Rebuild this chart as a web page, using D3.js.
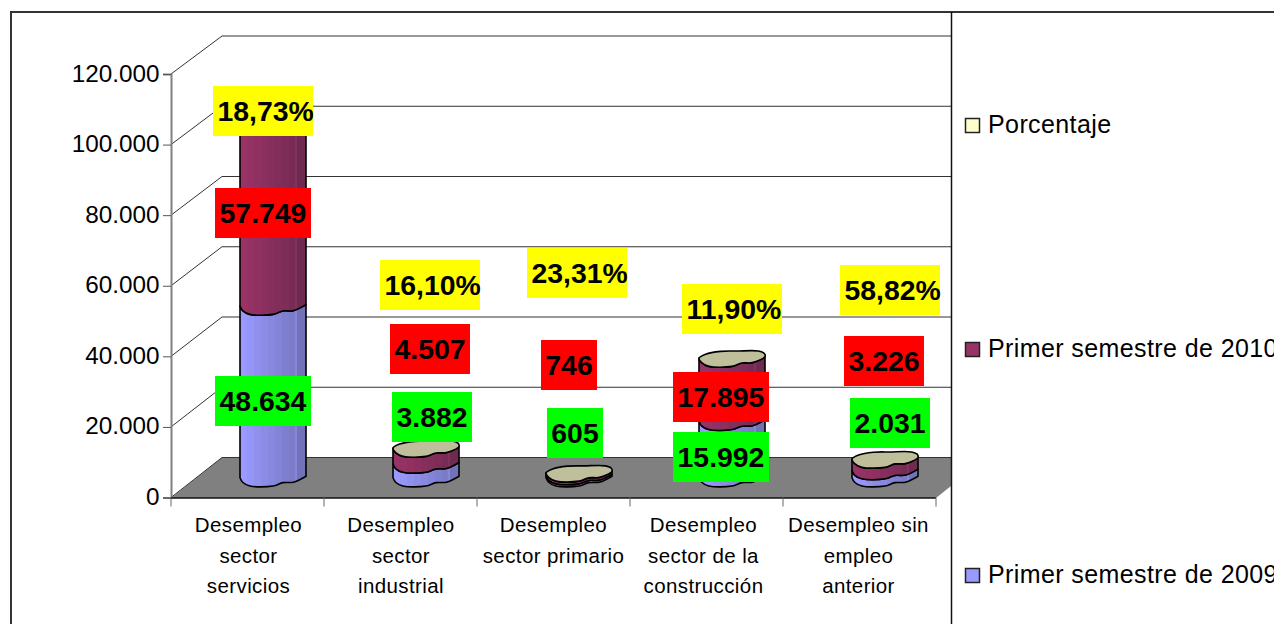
<!DOCTYPE html>
<html><head><meta charset="utf-8">
<script src="https://cdn.jsdelivr.net/npm/d3@7/dist/d3.min.js"></script>
<style>
html,body{margin:0;padding:0;background:#fff;overflow:hidden}
svg{display:block}
text{font-family:"Liberation Sans",Arial,sans-serif;fill:#000}
</style></head><body>
<svg id="c" width="1274" height="624"></svg>
<script>
// ---- data ----
const categories = [
  ["Desempleo","sector","servicios"],
  ["Desempleo","sector","industrial"],
  ["Desempleo","sector primario"],
  ["Desempleo","sector de la","construcción"],
  ["Desempleo sin","empleo","anterior"]
];
const semestre2009 = [48634, 3882, 605, 15992, 2031];
const semestre2010 = [57749, 4507, 746, 17895, 3226];
const porcentaje   = [18.73, 16.10, 23.31, 11.90, 58.82];
const yTicks = [0, 20000, 40000, 60000, 80000, 100000, 120000];
const seriesNames = ["Primer semestre de 2009", "Primer semestre de 2010", "Porcentaje"];
const yMax = 120000;

// ---- layout and style (hand-placed data labels, as in the source) ----
const boxLeft2009 = [215, 392, 547, 673, 850], boxTop2009 = [376, 392, 408, 432, 398];
const boxLeft2010 = [215, 390, 541, 673, 844], boxTop2010 = [188, 324, 340, 372, 336];
const boxLeftPct  = [213, 380, 527, 682, 840], boxTopPct  = [86, 260, 248, 284, 265];
const catOffset = [1, .5, 0, -3, -1];
const frontPts = [[1,-.3],[.62,.5],[.3,.55],[0,1],[-.7,1],[-.92,.5],[-1,-.1]];
const backPts  = [[-.8,-.63],[-.35,-1],[.15,-1.04],[.8,-1.04],[.98,-.72]];
const swatchColors = ["#9999FF","#993366","#FFFFCC"];
const capColor = "#BFBF9B";

const nf = d3.formatLocale({decimal:",",thousands:".",grouping:[3],currency:["",""]});
const fInt = nf.format(",d"), fPct = nf.format(".2f");

const svg = d3.select("#c");
const L=171,R=936,T=74,B=497.5, DX=51, wallTop=36, wallBottom=457.5, clipR=951;
const y = d3.scaleLinear().domain([0,yMax]).range([B,T]);
const yWall = d3.scaleLinear().domain([0,yMax]).range([wallBottom,wallTop]);
const x = d3.scaleBand().domain(d3.range(categories.length)).range([L,R]);

// gradients
const defs = svg.append("defs");
function grad(id,c0,c1){
  const g = defs.append("linearGradient").attr("id",id).attr("x1",0).attr("x2",1).attr("y1",0).attr("y2",0);
  const n = 10, col = d3.interpolateRgb(c0,c1);
  d3.range(n).forEach(i=>{
    const lighter = i===8;
    const c = lighter? d3.color(col(i/(n-1))).brighter(.35) : col(i/(n-1));
    const a = i<8 ? i/8*0.84 : (i===8?0.84:0.86);
    const b = i<8 ? (i+1)/8*0.84 : (i===8?0.86:1);
    g.append("stop").attr("offset",a).attr("stop-color",c);
    g.append("stop").attr("offset",b).attr("stop-color",c);
  });
}
grad("g0","#9999FF","#7272B8");
grad("g1","#993366","#6F2A50");
defs.append("clipPath").attr("id","plotClip").append("rect").attr("x",12).attr("y",12).attr("width",clipR-12).attr("height",612);

const plot = svg.append("g").attr("clip-path","url(#plotClip)");

// floor
plot.append("path").attr("d",d3.line()([[L,B+.5],[L+DX,wallBottom],[R+DX,wallBottom],[R,B+.5]])+"Z").attr("fill","#808080");

// wall gridlines
plot.selectAll("path.grid").data(yTicks).join("path").attr("class","grid")
  .attr("d",v=>d3.line()([[L,y(v)],[L+DX,yWall(v)],[clipR,yWall(v)]]))
  .attr("fill","none").attr("stroke","#333").attr("stroke-width",1);

// y axis
const yAxis = svg.append("g").attr("transform",`translate(${L},0)`)
  .call(d3.axisLeft(y).tickValues(yTicks).tickFormat(fInt).tickSize(8).tickPadding(3.5));
yAxis.select(".domain").attr("stroke","#808080").attr("stroke-width",2);
yAxis.selectAll("line").attr("stroke","#555").attr("stroke-width",1);
yAxis.selectAll("text").attr("font-size",24.3).attr("dy","0.29em").style("font-family",'"Liberation Sans"');

// x baseline and ticks
const xEdges = d3.range(categories.length+1).map(i=>L+i*x.step());
svg.append("line").attr("x1",L).attr("x2",R).attr("y1",B+.5).attr("y2",B+.5).attr("stroke","#111").attr("stroke-width",1.5);
svg.selectAll("line.xt").data(xEdges).join("line").attr("class","xt")
  .attr("x1",d=>d).attr("x2",d=>d).attr("y1",B).attr("y2",B+9).attr("stroke","#666").attr("stroke-width",1);

// category labels
const cat = svg.append("g").selectAll("text").data(categories).join("text")
  .attr("text-anchor","middle").attr("font-size",20.5).attr("letter-spacing",.4);
cat.selectAll("tspan").data((d,i)=>d.map(t=>({t,i}))).join("tspan")
  .attr("x",d=>x(d.i)+x.bandwidth()/2+catOffset[d.i]).attr("y",(d,j)=>532+j*30.5).text(d=>d.t);

// stacked cylinders
const rows = categories.map((_,i)=>({i,a:semestre2009[i],b:semestre2010[i],c:porcentaje[i]}));
const stacked = d3.stack().keys(["a","b","c"])(rows);
const RX=33, RY=7.5, depthShift=19;
const barY = v=>y(v)-depthShift;
const barX = i=>x(i)+x.bandwidth()/2+25.5;
const open = d3.line().curve(d3.curveCatmullRom);
const closed = d3.line().curve(d3.curveCatmullRomClosed);
const pt = (p,cx,cy)=>[cx+p[0]*RX,cy+p[1]*RY];
rows.forEach(r=>{
  const cx = barX(r.i);
  stacked.slice(0,2).forEach((s,k)=>{
    const y0=barY(s[r.i][0]), y1=barY(s[r.i][1]);
    const lower=open(frontPts.map(p=>pt(p,cx,y0)));
    const upper=open(frontPts.slice().reverse().map(p=>pt(p,cx,y1)));
    plot.append("path").attr("d",lower+"L"+upper.slice(1)+"Z").attr("fill",`url(#g${k})`)
      .attr("stroke","#000").attr("stroke-width",1.6).attr("stroke-linejoin","round");
  });
  const yc = barY(stacked[2][r.i][1]);
  plot.append("path").attr("d",closed(frontPts.concat(backPts).map(p=>pt(p,cx,yc))))
    .attr("fill",capColor).attr("stroke","#000").attr("stroke-width",1.6);
});

// data labels
function labels(vals,fmt,lefts,tops,color,fixedW){
  const g = svg.append("g");
  vals.forEach((v,i)=>{
    const t = g.append("text").attr("font-size",28.4).attr("font-weight","bold").text(fmt(v));
    const tw = t.node().getComputedTextLength();
    const w = fixedW || Math.round(tw+9);
    g.insert("rect","text").attr("x",lefts[i]).attr("y",tops[i]).attr("width",w).attr("height",50).attr("fill",color);
    t.attr("x",lefts[i]+(fixedW?4.5:(w-tw)/2)).attr("y",tops[i]+35);
  });
}
labels(semestre2009,fInt,boxLeft2009,boxTop2009,"#00FF00");
labels(semestre2010,fInt,boxLeft2010,boxTop2010,"#FF0000");
labels(porcentaje,v=>fPct(v)+"%",boxLeftPct,boxTopPct,"#FFFF00",100);

// frame
svg.append("path").attr("d","M11,624V12H1274").attr("fill","none").attr("stroke","#333").attr("stroke-width",2);
svg.append("line").attr("x1",clipR+.5).attr("x2",clipR+.5).attr("y1",12).attr("y2",624).attr("stroke","#111").attr("stroke-width",1.5);

// legend
const legendY = [575.5, 349.5, 125.5];
const lg = svg.append("g").selectAll("g").data(seriesNames).join("g");
lg.append("rect").attr("x",965.5).attr("y",(d,i)=>legendY[i]-7).attr("width",14).attr("height",14)
  .attr("fill",(d,i)=>swatchColors[i]).attr("stroke","#222").attr("stroke-width",1.5);
lg.append("text").attr("x",988).attr("y",(d,i)=>legendY[i]+7).attr("font-size",25).attr("letter-spacing",.4).text(d=>d);
</script>
</body></html>
